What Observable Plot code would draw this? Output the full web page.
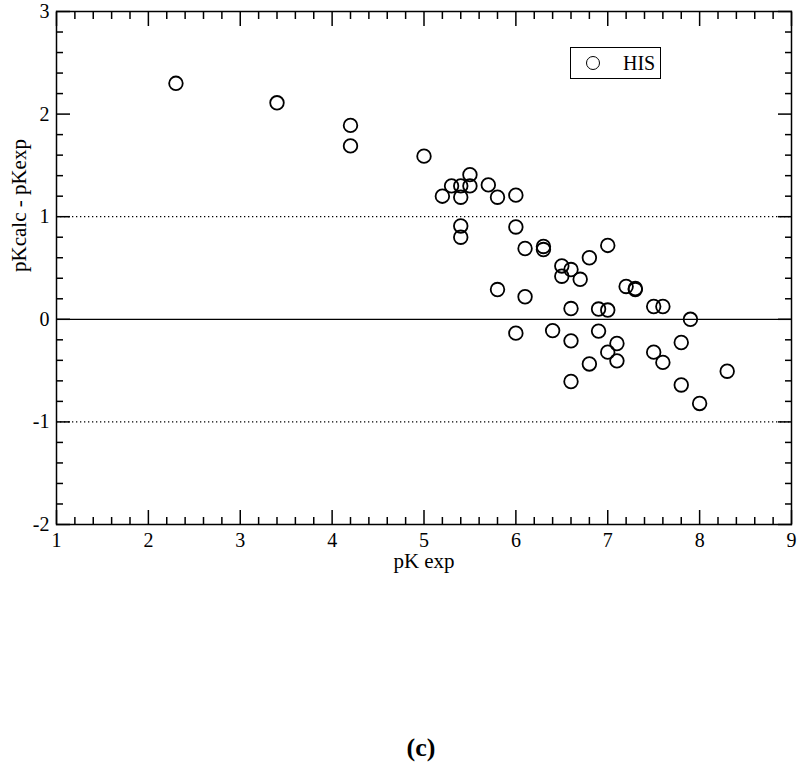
<!DOCTYPE html>
<html>
<head>
<meta charset="utf-8">
<script src="https://cdn.jsdelivr.net/npm/d3@7"></script>
<script src="https://cdn.jsdelivr.net/npm/@observablehq/plot@0.6"></script>
<style>
  html, body { margin: 0; padding: 0; background: #fff; }
  #wrap { position: relative; width: 800px; height: 766px; font-family: "Liberation Serif", "Times New Roman", serif; }
  #chart svg, #chart svg text { font-family: "Liberation Serif", "Times New Roman", serif !important; font-variant: normal !important; }
  #chart svg g[aria-label="x-axis tick label"], #chart svg g[aria-label="y-axis tick label"] { font-size: 20px !important; }
  #legend { position: absolute; left: 570px; top: 47px; width: 89px; height: 30px; border: 1.5px solid #000; box-sizing: content-box; }
  #legend .sym { position: absolute; left: 15px; top: 8px; width: 12px; height: 12px; border: 1.8px solid #000; border-radius: 50%; }
  #legend .lab { position: absolute; left: 52px; top: 3px; font-size: 20px; line-height: 24px; }
  #caption { position: absolute; top: 733px; left: 421px; transform: translateX(-50%); font-weight: bold; font-size: 26px; line-height: 30px; }
</style>
</head>
<body>
<div id="wrap">
  <div id="chart"></div>
  <div id="legend"><span class="sym"></span><span class="lab">HIS</span></div>
  <div id="caption">(c)</div>
</div>
<script>
// Data
const seriesName = "HIS";
const pKexp = [2.3, 3.4, 4.2, 4.2, 5.0, 5.2, 5.3, 5.4, 5.4, 5.4, 5.4, 5.5, 5.5, 5.7, 5.8, 5.8,
  6.0, 6.0, 6.0, 6.1, 6.1, 6.3, 6.3, 6.4, 6.5, 6.5, 6.6, 6.6, 6.6, 6.6, 6.7, 6.8, 6.8,
  6.9, 6.9, 7.0, 7.0, 7.0, 7.1, 7.1, 7.2, 7.3, 7.3, 7.5, 7.5, 7.6, 7.6, 7.8, 7.8, 7.9, 8.0, 8.3];
const dpK = [2.30, 2.11, 1.89, 1.69, 1.59, 1.20, 1.30, 1.30, 1.19, 0.91, 0.80, 1.41, 1.30, 1.31, 1.19, 0.29,
  1.21, 0.90, -0.135, 0.69, 0.22, 0.71, 0.68, -0.11, 0.52, 0.42, 0.485, 0.105, -0.21, -0.606, 0.39, 0.60, -0.435,
  0.10, -0.115, 0.72, 0.09, -0.32, -0.236, -0.405, 0.32, 0.30, 0.29, 0.125, -0.32, 0.125, -0.42, -0.226, -0.64, 0.0, -0.82, -0.506];
const xMajor = [1, 2, 3, 4, 5, 6, 7, 8, 9];
const yMajor = [-2, -1, 0, 1, 2, 3];
const refSolid = [0];
const refDotted = [1, -1];
const xLabel = "pK exp";
const yLabel = "pKcalc - pKexp";

const points = pKexp.map((x, i) => ({x, y: dpK[i]}));
const xMinor = d3.range(10, 91, 2).map(v => v / 10).filter(v => !xMajor.includes(v));
const yMinor = d3.range(-20, 31, 2).map(v => v / 10).filter(v => !yMajor.includes(v));
const noText = () => "";
const intText = d => String(d);
const serif = "Liberation Serif";

const chart = Plot.plot({
  width: 800,
  height: 580,
  marginTop: 11,
  marginBottom: 56,
  marginLeft: 56,
  marginRight: 9,
  style: {fontFamily: serif, fontSize: "20px", background: "#fff", color: "#000"},
  x: {domain: [1, 9]},
  y: {domain: [-2, 3]},
  marks: [
    Plot.ruleY(refDotted, {stroke: "#000", strokeWidth: 1.2, strokeDasharray: "1.3,2.7"}),
    Plot.ruleY(refSolid, {stroke: "#000", strokeWidth: 1.3}),
    // tick labels
    Plot.axisX(xMajor, {anchor: "bottom", tickSize: 0, tickPadding: 8, tickFormat: intText, label: null, fontSize: 20}),
    Plot.axisY(yMajor, {anchor: "left", tickSize: 0, tickPadding: 7, tickFormat: intText, label: null, fontSize: 20}),
    // inward ticks
    Plot.axisX(xMajor, {anchor: "bottom", tickSize: -14, tickFormat: noText, label: null, strokeWidth: 1.5}),
    Plot.axisX(xMinor, {anchor: "bottom", tickSize: -7, tickFormat: noText, label: null, strokeWidth: 1.5}),
    Plot.axisX(xMajor, {anchor: "top", tickSize: -14, tickFormat: noText, label: null, strokeWidth: 1.5}),
    Plot.axisX(xMinor, {anchor: "top", tickSize: -7, tickFormat: noText, label: null, strokeWidth: 1.5}),
    Plot.axisY(yMajor, {anchor: "left", tickSize: -14, tickFormat: noText, label: null, strokeWidth: 1.5}),
    Plot.axisY(yMinor, {anchor: "left", tickSize: -7, tickFormat: noText, label: null, strokeWidth: 1.5}),
    Plot.axisY(yMajor, {anchor: "right", tickSize: -14, tickFormat: noText, label: null, strokeWidth: 1.5}),
    Plot.axisY(yMinor, {anchor: "right", tickSize: -7, tickFormat: noText, label: null, strokeWidth: 1.5}),
    Plot.frame({stroke: "#000", strokeWidth: 1.5}),
    // axis titles
    Plot.text([xLabel], {frameAnchor: "bottom", text: d => d, dy: 37, lineAnchor: "middle", fontSize: 21}),
    Plot.text([yLabel], {frameAnchor: "left", text: d => d, dx: -37, dy: 4, rotate: -90, lineAnchor: "middle", fontSize: 21}),
    // data
    Plot.dot(points, {x: "x", y: "y", r: 6.8, stroke: "#000", strokeWidth: 1.8, fill: "none"})
  ]
});
document.getElementById("chart").appendChild(chart);
</script>
</body>
</html>
